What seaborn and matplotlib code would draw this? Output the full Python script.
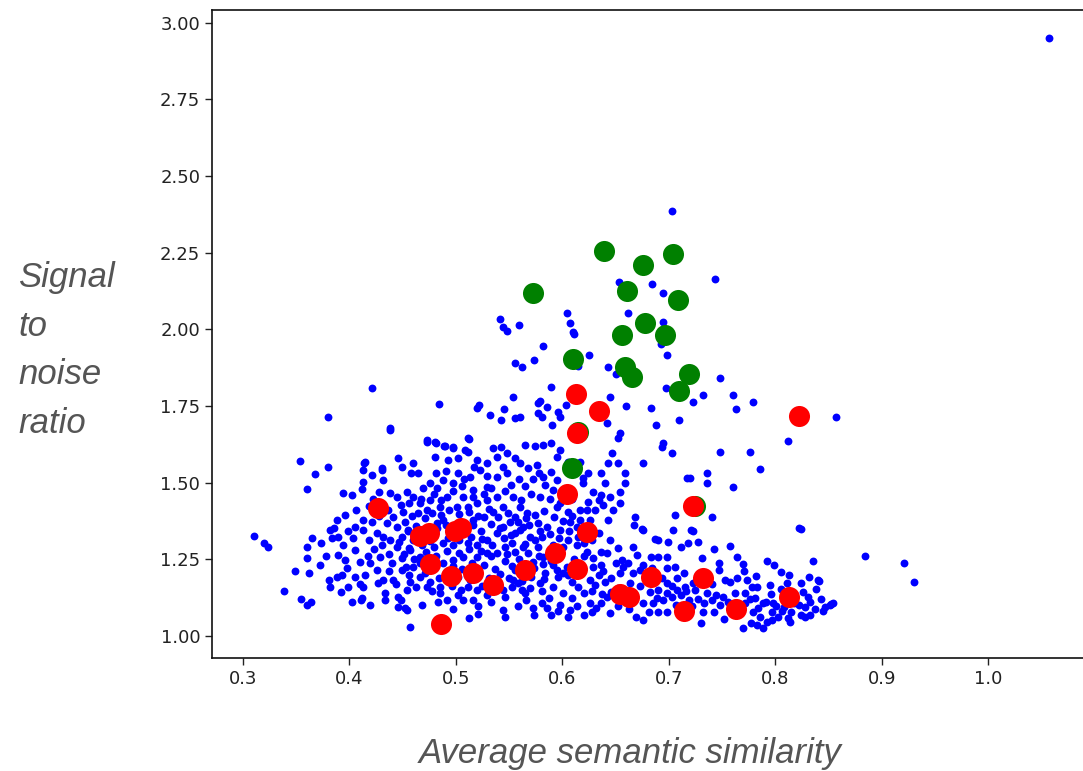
import numpy as np
import pandas as pd
import matplotlib
matplotlib.use("Agg")
import matplotlib.pyplot as plt
import seaborn as sns

# blue points (average semantic similarity, signal to noise ratio)
blue_upper = [
    (0.703, 2.387), (0.743, 2.165), (0.653, 2.155), (0.684, 2.148), (0.695, 2.119), (0.604, 2.054),
    (0.607, 2.021), (0.610, 1.992), (0.611, 1.985), (0.662, 2.054), (0.695, 2.025), (0.693, 1.953),
    (0.698, 1.917), (0.625, 1.917), (0.643, 1.878), (0.650, 1.855), (0.615, 1.881), (0.748, 1.842),
    (0.697, 1.809), (0.732, 1.786), (0.760, 1.786), (0.723, 1.763), (0.779, 1.763), (0.763, 1.741),
    (0.645, 1.780), (0.660, 1.750), (0.683, 1.745), (0.710, 1.705), (0.688, 1.688), (0.857, 1.714),
    (0.642, 1.695), (0.654, 1.662), (0.541, 2.034), (0.544, 2.008), (0.548, 1.995), (0.559, 2.015),
    (0.582, 1.946), (0.556, 1.891), (0.562, 1.878), (0.573, 1.900), (0.421, 1.809), (0.484, 1.757),
    (0.380, 1.714), (0.438, 1.679), (0.554, 1.780), (0.589, 1.812), (0.522, 1.754), (0.520, 1.745),
    (0.532, 1.721), (0.545, 1.741), (0.542, 1.705), (0.556, 1.711), (0.560, 1.715), (0.579, 1.767),
    (0.577, 1.760), (0.586, 1.747), (0.577, 1.728), (0.581, 1.715), (0.596, 1.731), (0.598, 1.715),
    (0.603, 1.754), (0.590, 1.688), (0.511, 1.646), (0.473, 1.639), (0.480, 1.633), (0.489, 1.620),
    (0.497, 1.617), (0.512, 1.643), (0.509, 1.607), (1.057, 2.951),
]

blue_right = [
    (0.812, 1.636), (0.748, 1.600), (0.776, 1.600), (0.786, 1.545), (0.736, 1.532), (0.736, 1.499),
    (0.760, 1.486), (0.720, 1.515), (0.741, 1.388), (0.824, 1.349), (0.884, 1.261), (0.835, 1.245),
    (0.841, 1.179), (0.723, 1.343), (0.727, 1.307), (0.764, 1.258), (0.792, 1.245), (0.799, 1.232),
    (0.731, 1.255), (0.747, 1.239), (0.747, 1.216), (0.764, 1.190), (0.753, 1.183), (0.852, 1.104),
    (0.847, 1.095), (0.833, 1.111), (0.828, 1.095), (0.824, 1.173), (0.811, 1.173), (0.795, 1.166),
    (0.783, 1.160), (0.778, 1.160), (0.772, 1.140), (0.762, 1.140), (0.751, 1.127), (0.744, 1.134),
    (0.736, 1.140), (0.725, 1.150), (0.781, 1.124), (0.788, 1.108), (0.797, 1.078), (0.803, 1.062),
    (0.792, 1.046), (0.777, 1.042), (0.770, 1.026), (0.788, 1.026), (0.814, 1.046), (0.824, 1.069),
    (0.833, 1.069), (0.742, 1.078), (0.732, 1.078), (0.730, 1.042), (0.762, 1.108), (0.772, 1.108),
    (0.798, 1.108), (0.808, 1.095), (0.817, 1.124), (0.822, 1.101), (0.921, 1.238), (0.930, 1.176),
    (0.840, 1.183), (0.851, 1.101), (0.854, 1.108), (0.676, 1.346), (0.687, 1.316), (0.721, 1.346),
    (0.822, 1.352),
]

blue_band = [
    (0.628, 1.148), (0.637, 1.138), (0.646, 1.142), (0.656, 1.118), (0.668, 1.128), (0.673, 1.162),
    (0.682, 1.142), (0.689, 1.124), (0.703, 1.128), (0.711, 1.134), (0.719, 1.118), (0.722, 1.096),
    (0.733, 1.108), (0.741, 1.118), (0.748, 1.102), (0.756, 1.112), (0.757, 1.088), (0.768, 1.098),
    (0.776, 1.122), (0.784, 1.092), (0.791, 1.112), (0.796, 1.138), (0.801, 1.098), (0.805, 1.152),
    (0.812, 1.138), (0.818, 1.108), (0.826, 1.142), (0.831, 1.128), (0.838, 1.152), (0.843, 1.122),
    (0.845, 1.082), (0.837, 1.088), (0.828, 1.062), (0.815, 1.078), (0.806, 1.082), (0.786, 1.062),
    (0.779, 1.078), (0.763, 1.068), (0.752, 1.056), (0.783, 1.036), (0.797, 1.052), (0.812, 1.058),
    (0.727, 1.122), (0.716, 1.148), (0.703, 1.162), (0.694, 1.188), (0.683, 1.176), (0.664, 1.172),
    (0.646, 1.188), (0.638, 1.212), (0.629, 1.226), (0.656, 1.248), (0.662, 1.238), (0.676, 1.232),
    (0.684, 1.221), (0.688, 1.202), (0.723, 1.172), (0.741, 1.168), (0.757, 1.176), (0.773, 1.182),
    (0.782, 1.196), (0.771, 1.212), (0.735, 1.198), (0.742, 1.282), (0.757, 1.292), (0.770, 1.236),
    (0.805, 1.208), (0.813, 1.198), (0.832, 1.192), (0.652, 1.098), (0.663, 1.088), (0.614, 1.096),
    (0.598, 1.102), (0.596, 1.082), (0.586, 1.092), (0.632, 1.092), (0.669, 1.062), (0.707, 1.102),
    (0.712, 1.088),
]

blue_middle = [
    (0.652, 1.646), (0.695, 1.630), (0.694, 1.617), (0.703, 1.597), (0.676, 1.564), (0.717, 1.515),
    (0.647, 1.597), (0.643, 1.564), (0.652, 1.564), (0.659, 1.532), (0.659, 1.499), (0.636, 1.532),
    (0.640, 1.499), (0.636, 1.460), (0.645, 1.453), (0.654, 1.470), (0.654, 1.434), (0.648, 1.411),
    (0.643, 1.378), (0.668, 1.388), (0.667, 1.362), (0.675, 1.349), (0.706, 1.395), (0.704, 1.346),
    (0.690, 1.313), (0.699, 1.307), (0.711, 1.290), (0.718, 1.303), (0.666, 1.290), (0.670, 1.264),
    (0.683, 1.258), (0.690, 1.258), (0.698, 1.258), (0.645, 1.313), (0.652, 1.287), (0.642, 1.271),
    (0.650, 1.238), (0.657, 1.225), (0.666, 1.206), (0.673, 1.215), (0.698, 1.222), (0.706, 1.225),
    (0.714, 1.206), (0.708, 1.189), (0.698, 1.173), (0.690, 1.150), (0.698, 1.140), (0.708, 1.150),
    (0.715, 1.160), (0.695, 1.117), (0.685, 1.108), (0.676, 1.108), (0.681, 1.078), (0.690, 1.078),
    (0.698, 1.078), (0.676, 1.052), (0.645, 1.075), (0.636, 1.108), (0.642, 1.127), (0.628, 1.078),
    (0.620, 1.069), (0.605, 1.062), (0.589, 1.069), (0.581, 1.108), (0.572, 1.091), (0.573, 1.069),
    (0.565, 1.140), (0.558, 1.173), (0.554, 1.183), (0.556, 1.215), (0.584, 1.206), (0.591, 1.160),
    (0.601, 1.140), (0.609, 1.124), (0.620, 1.140), (0.631, 1.166), (0.634, 1.199), (0.626, 1.183),
    (0.640, 1.176), (0.652, 1.157), (0.654, 1.206), (0.636, 1.232), (0.629, 1.255), (0.636, 1.274),
    (0.623, 1.274), (0.628, 1.313), (0.634, 1.336), (0.615, 1.323), (0.614, 1.297), (0.605, 1.313),
    (0.598, 1.346), (0.607, 1.372), (0.617, 1.378), (0.623, 1.411), (0.617, 1.411), (0.605, 1.405),
    (0.595, 1.421), (0.601, 1.453), (0.591, 1.476), (0.584, 1.493), (0.595, 1.509), (0.589, 1.535),
    (0.582, 1.519), (0.576, 1.558), (0.568, 1.548), (0.560, 1.564), (0.556, 1.581), (0.565, 1.623),
    (0.574, 1.620), (0.582, 1.623), (0.589, 1.630), (0.598, 1.607), (0.595, 1.584), (0.605, 1.568),
    (0.617, 1.568), (0.619, 1.515), (0.624, 1.532), (0.619, 1.499), (0.629, 1.470), (0.624, 1.437),
    (0.634, 1.444), (0.631, 1.411), (0.638, 1.427), (0.626, 1.378), (0.554, 1.453), (0.560, 1.421),
    (0.556, 1.388), (0.567, 1.401), (0.563, 1.356), (0.556, 1.336), (0.570, 1.323), (0.577, 1.369),
    (0.586, 1.356), (0.581, 1.323), (0.577, 1.290), (0.582, 1.258), (0.572, 1.241), (0.556, 1.274),
    (0.563, 1.290), (0.553, 1.303), (0.591, 1.232), (0.601, 1.206), (0.609, 1.176), (0.615, 1.160),
    (0.579, 1.173), (0.570, 1.157), (0.587, 1.124), (0.607, 1.085), (0.626, 1.108),
]

blue_core = [
    (0.452, 1.372), (0.459, 1.392), (0.471, 1.385), (0.478, 1.402), (0.486, 1.395), (0.494, 1.412),
    (0.503, 1.398), (0.512, 1.405), (0.521, 1.392), (0.531, 1.415), (0.540, 1.388), (0.549, 1.402),
    (0.558, 1.371), (0.566, 1.385), (0.574, 1.396), (0.583, 1.409), (0.592, 1.388), (0.601, 1.376),
    (0.609, 1.392), (0.455, 1.342), (0.463, 1.358), (0.482, 1.351), (0.491, 1.362), (0.508, 1.348),
    (0.516, 1.362), (0.524, 1.341), (0.533, 1.366), (0.541, 1.352), (0.551, 1.372), (0.560, 1.346),
    (0.569, 1.361), (0.579, 1.343), (0.588, 1.332), (0.597, 1.318), (0.606, 1.341), (0.614, 1.356),
    (0.447, 1.306), (0.456, 1.288), (0.469, 1.318), (0.476, 1.309), (0.493, 1.321), (0.503, 1.312),
    (0.514, 1.322), (0.525, 1.316), (0.534, 1.298), (0.545, 1.318), (0.552, 1.329), (0.565, 1.301),
    (0.574, 1.314), (0.591, 1.298), (0.601, 1.289), (0.620, 1.302), (0.451, 1.268), (0.461, 1.251),
    (0.472, 1.274), (0.481, 1.262), (0.492, 1.278), (0.503, 1.271), (0.512, 1.284), (0.524, 1.276),
    (0.533, 1.261), (0.548, 1.268), (0.559, 1.252), (0.568, 1.272), (0.578, 1.262), (0.589, 1.243),
    (0.598, 1.262), (0.611, 1.252), (0.620, 1.262), (0.453, 1.226), (0.466, 1.238), (0.478, 1.219),
    (0.497, 1.228), (0.506, 1.219), (0.515, 1.238), (0.526, 1.232), (0.537, 1.219), (0.546, 1.243),
    (0.553, 1.228), (0.562, 1.212), (0.573, 1.222), (0.582, 1.233), (0.595, 1.215), (0.604, 1.226),
    (0.613, 1.238), (0.456, 1.198), (0.471, 1.205), (0.484, 1.188), (0.502, 1.193), (0.513, 1.181),
    (0.521, 1.198), (0.531, 1.188), (0.541, 1.203), (0.550, 1.189), (0.562, 1.179), (0.571, 1.192),
    (0.583, 1.186), (0.596, 1.191), (0.605, 1.198), (0.463, 1.160), (0.478, 1.148), (0.496, 1.162),
    (0.505, 1.149), (0.525, 1.163), (0.536, 1.152), (0.553, 1.158), (0.562, 1.150), (0.581, 1.145),
    (0.456, 1.432), (0.467, 1.448), (0.479, 1.462), (0.486, 1.442), (0.497, 1.472), (0.506, 1.488),
    (0.516, 1.452), (0.526, 1.462), (0.533, 1.482), (0.546, 1.472), (0.552, 1.492), (0.561, 1.442),
    (0.571, 1.462), (0.579, 1.452), (0.588, 1.445), (0.598, 1.433), (0.609, 1.448), (0.469, 1.482),
    (0.481, 1.531), (0.491, 1.539), (0.508, 1.512), (0.517, 1.552), (0.529, 1.522), (0.548, 1.532),
    (0.559, 1.512), (0.565, 1.489), (0.572, 1.512), (0.578, 1.532), (0.406, 1.412), (0.418, 1.423),
    (0.428, 1.392), (0.436, 1.412), (0.422, 1.448), (0.412, 1.478), (0.428, 1.468), (0.396, 1.395),
    (0.399, 1.342), (0.418, 1.312), (0.432, 1.322), (0.398, 1.222), (0.423, 1.282), (0.437, 1.268),
    (0.417, 1.262), (0.437, 1.211), (0.427, 1.172), (0.444, 1.168), (0.393, 1.198), (0.378, 1.262),
    (0.373, 1.302), (0.372, 1.232), (0.392, 1.142), (0.402, 1.112), (0.433, 1.118), (0.468, 1.102),
    (0.483, 1.112), (0.502, 1.132), (0.497, 1.088), (0.521, 1.098), (0.533, 1.112), (0.558, 1.098),
    (0.566, 1.117), (0.521, 1.072), (0.512, 1.058),
]

blue_left = [
    (0.438, 1.672), (0.473, 1.633), (0.481, 1.630), (0.490, 1.620), (0.497, 1.613), (0.511, 1.600),
    (0.502, 1.581), (0.493, 1.574), (0.480, 1.584), (0.460, 1.564), (0.446, 1.581), (0.449, 1.551),
    (0.464, 1.532), (0.458, 1.532), (0.415, 1.568), (0.413, 1.542), (0.413, 1.502), (0.421, 1.525),
    (0.431, 1.542), (0.432, 1.509), (0.394, 1.467), (0.402, 1.460), (0.388, 1.378), (0.386, 1.352),
    (0.389, 1.323), (0.394, 1.297), (0.389, 1.264), (0.396, 1.248), (0.388, 1.192), (0.399, 1.160),
    (0.412, 1.124), (0.413, 1.160), (0.405, 1.192), (0.415, 1.199), (0.419, 1.238), (0.410, 1.241),
    (0.405, 1.281), (0.403, 1.320), (0.413, 1.346), (0.421, 1.372), (0.413, 1.378), (0.405, 1.356),
    (0.426, 1.336), (0.431, 1.297), (0.429, 1.258), (0.426, 1.215), (0.432, 1.183), (0.433, 1.140),
    (0.446, 1.127), (0.454, 1.150), (0.446, 1.095), (0.454, 1.085), (0.441, 1.183), (0.449, 1.215),
    (0.440, 1.238), (0.449, 1.255), (0.457, 1.281), (0.445, 1.290), (0.438, 1.313), (0.449, 1.323),
    (0.455, 1.346), (0.445, 1.356), (0.435, 1.369), (0.441, 1.388), (0.450, 1.405), (0.438, 1.467),
    (0.445, 1.453), (0.454, 1.470), (0.460, 1.453), (0.448, 1.427), (0.466, 1.434), (0.464, 1.401),
    (0.473, 1.411), (0.476, 1.444), (0.485, 1.421), (0.492, 1.453), (0.482, 1.483), (0.476, 1.499),
    (0.488, 1.509), (0.497, 1.499), (0.502, 1.532), (0.513, 1.519), (0.523, 1.542), (0.520, 1.574),
    (0.529, 1.564), (0.539, 1.584), (0.542, 1.617), (0.535, 1.613), (0.548, 1.597), (0.544, 1.551),
    (0.539, 1.519), (0.529, 1.486), (0.516, 1.476), (0.507, 1.453), (0.501, 1.421), (0.511, 1.421),
    (0.520, 1.434), (0.529, 1.444), (0.539, 1.453), (0.544, 1.421), (0.535, 1.405), (0.526, 1.388),
    (0.516, 1.378), (0.488, 1.378), (0.482, 1.369), (0.460, 1.313), (0.468, 1.297), (0.479, 1.290),
    (0.488, 1.303), (0.497, 1.297), (0.511, 1.303), (0.520, 1.297), (0.529, 1.313), (0.539, 1.336),
    (0.544, 1.356), (0.546, 1.290), (0.539, 1.271), (0.529, 1.271), (0.520, 1.258), (0.507, 1.258),
    (0.497, 1.248), (0.488, 1.238), (0.466, 1.258), (0.460, 1.225), (0.466, 1.192), (0.476, 1.176),
    (0.485, 1.160), (0.485, 1.140), (0.473, 1.160), (0.457, 1.176), (0.511, 1.160), (0.520, 1.150),
    (0.507, 1.117), (0.516, 1.117), (0.529, 1.134), (0.544, 1.150), (0.546, 1.127), (0.544, 1.085),
    (0.546, 1.062), (0.492, 1.117), (0.457, 1.029), (0.419, 1.101), (0.354, 1.571), (0.368, 1.529),
    (0.380, 1.551), (0.360, 1.480), (0.310, 1.326), (0.320, 1.303), (0.324, 1.290), (0.365, 1.320),
    (0.360, 1.290), (0.349, 1.212), (0.339, 1.147), (0.355, 1.121), (0.360, 1.101), (0.364, 1.111),
    (0.362, 1.206), (0.360, 1.255), (0.382, 1.346), (0.384, 1.320), (0.410, 1.170), (0.411, 1.117),
    (0.382, 1.160), (0.381, 1.183), (0.452, 1.091), (0.448, 1.117), (0.414, 1.564), (0.431, 1.548),
]

green_pts = [
    (0.572, 2.119), (0.639, 2.256), (0.676, 2.210), (0.704, 2.246), (0.661, 2.126), (0.709, 2.096),
    (0.678, 2.021), (0.656, 1.982), (0.696, 1.982), (0.610, 1.904), (0.659, 1.878), (0.665, 1.845),
    (0.719, 1.855), (0.710, 1.800), (0.609, 1.548), (0.615, 1.666), (0.725, 1.424),
]

red_pts = [
    (0.613, 1.790), (0.634, 1.734), (0.614, 1.662), (0.427, 1.418), (0.604, 1.463), (0.723, 1.424),
    (0.822, 1.718), (0.623, 1.339), (0.466, 1.326), (0.475, 1.336), (0.499, 1.343), (0.505, 1.352),
    (0.476, 1.235), (0.495, 1.196), (0.516, 1.206), (0.535, 1.166), (0.565, 1.215), (0.593, 1.271),
    (0.614, 1.219), (0.654, 1.137), (0.663, 1.127), (0.683, 1.192), (0.714, 1.082), (0.732, 1.189),
    (0.763, 1.088), (0.813, 1.127), (0.486, 1.039),
]

x_ticks = [0.3, 0.4, 0.5, 0.6, 0.7, 0.8, 0.9, 1.0]
y_ticks = [1.00, 1.25, 1.50, 1.75, 2.00, 2.25, 2.50, 2.75, 3.00]

blue = pd.DataFrame(blue_upper + blue_right + blue_band + blue_middle + blue_core + blue_left,
                    columns=["sim", "snr"])
green = pd.DataFrame(green_pts, columns=["sim", "snr"])
red = pd.DataFrame(red_pts, columns=["sim", "snr"])

sns.set_style("ticks")

fig = plt.figure(figsize=(10.83, 7.71), dpi=100)
ax = fig.add_axes([0.1958, 0.1466, 0.8042, 0.8405])

sns.scatterplot(data=blue, x="sim", y="snr", color="blue", s=32, linewidth=0, ax=ax)
sns.scatterplot(data=green, x="sim", y="snr", color="green", s=230, linewidth=0, ax=ax)
sns.scatterplot(data=red, x="sim", y="snr", color="red", s=230, linewidth=0, ax=ax)

ax.set_xlim(0.271, 1.089)
ax.set_ylim(0.928, 3.042)
ax.set_xticks(x_ticks)
ax.set_xticklabels([f"{t:.1f}" for t in x_ticks])
ax.set_yticks(y_ticks)
ax.set_yticklabels([f"{t:.2f}" for t in y_ticks])
ax.tick_params(labelsize=13, colors="#222222", length=5, width=1)
for side in ["left", "bottom", "top"]:
    ax.spines[side].set_color("#111111")
    ax.spines[side].set_linewidth(1.2)
ax.spines["right"].set_visible(False)
ax.set_xlabel("")
ax.set_ylabel("")

fig.text(0.582, 1 - 753 / 771, "Average semantic similarity", ha="center", va="center",
         fontsize=25, style="italic", color="#555555", family="Liberation Sans")
fig.text(18 / 1083, 1 - 261 / 771, "Signal\nto\nnoise\nratio", ha="left", va="top",
         fontsize=25, style="italic", color="#555555", family="Liberation Sans", linespacing=1.6)

fig.savefig("out.png", dpi=100, facecolor="white")
